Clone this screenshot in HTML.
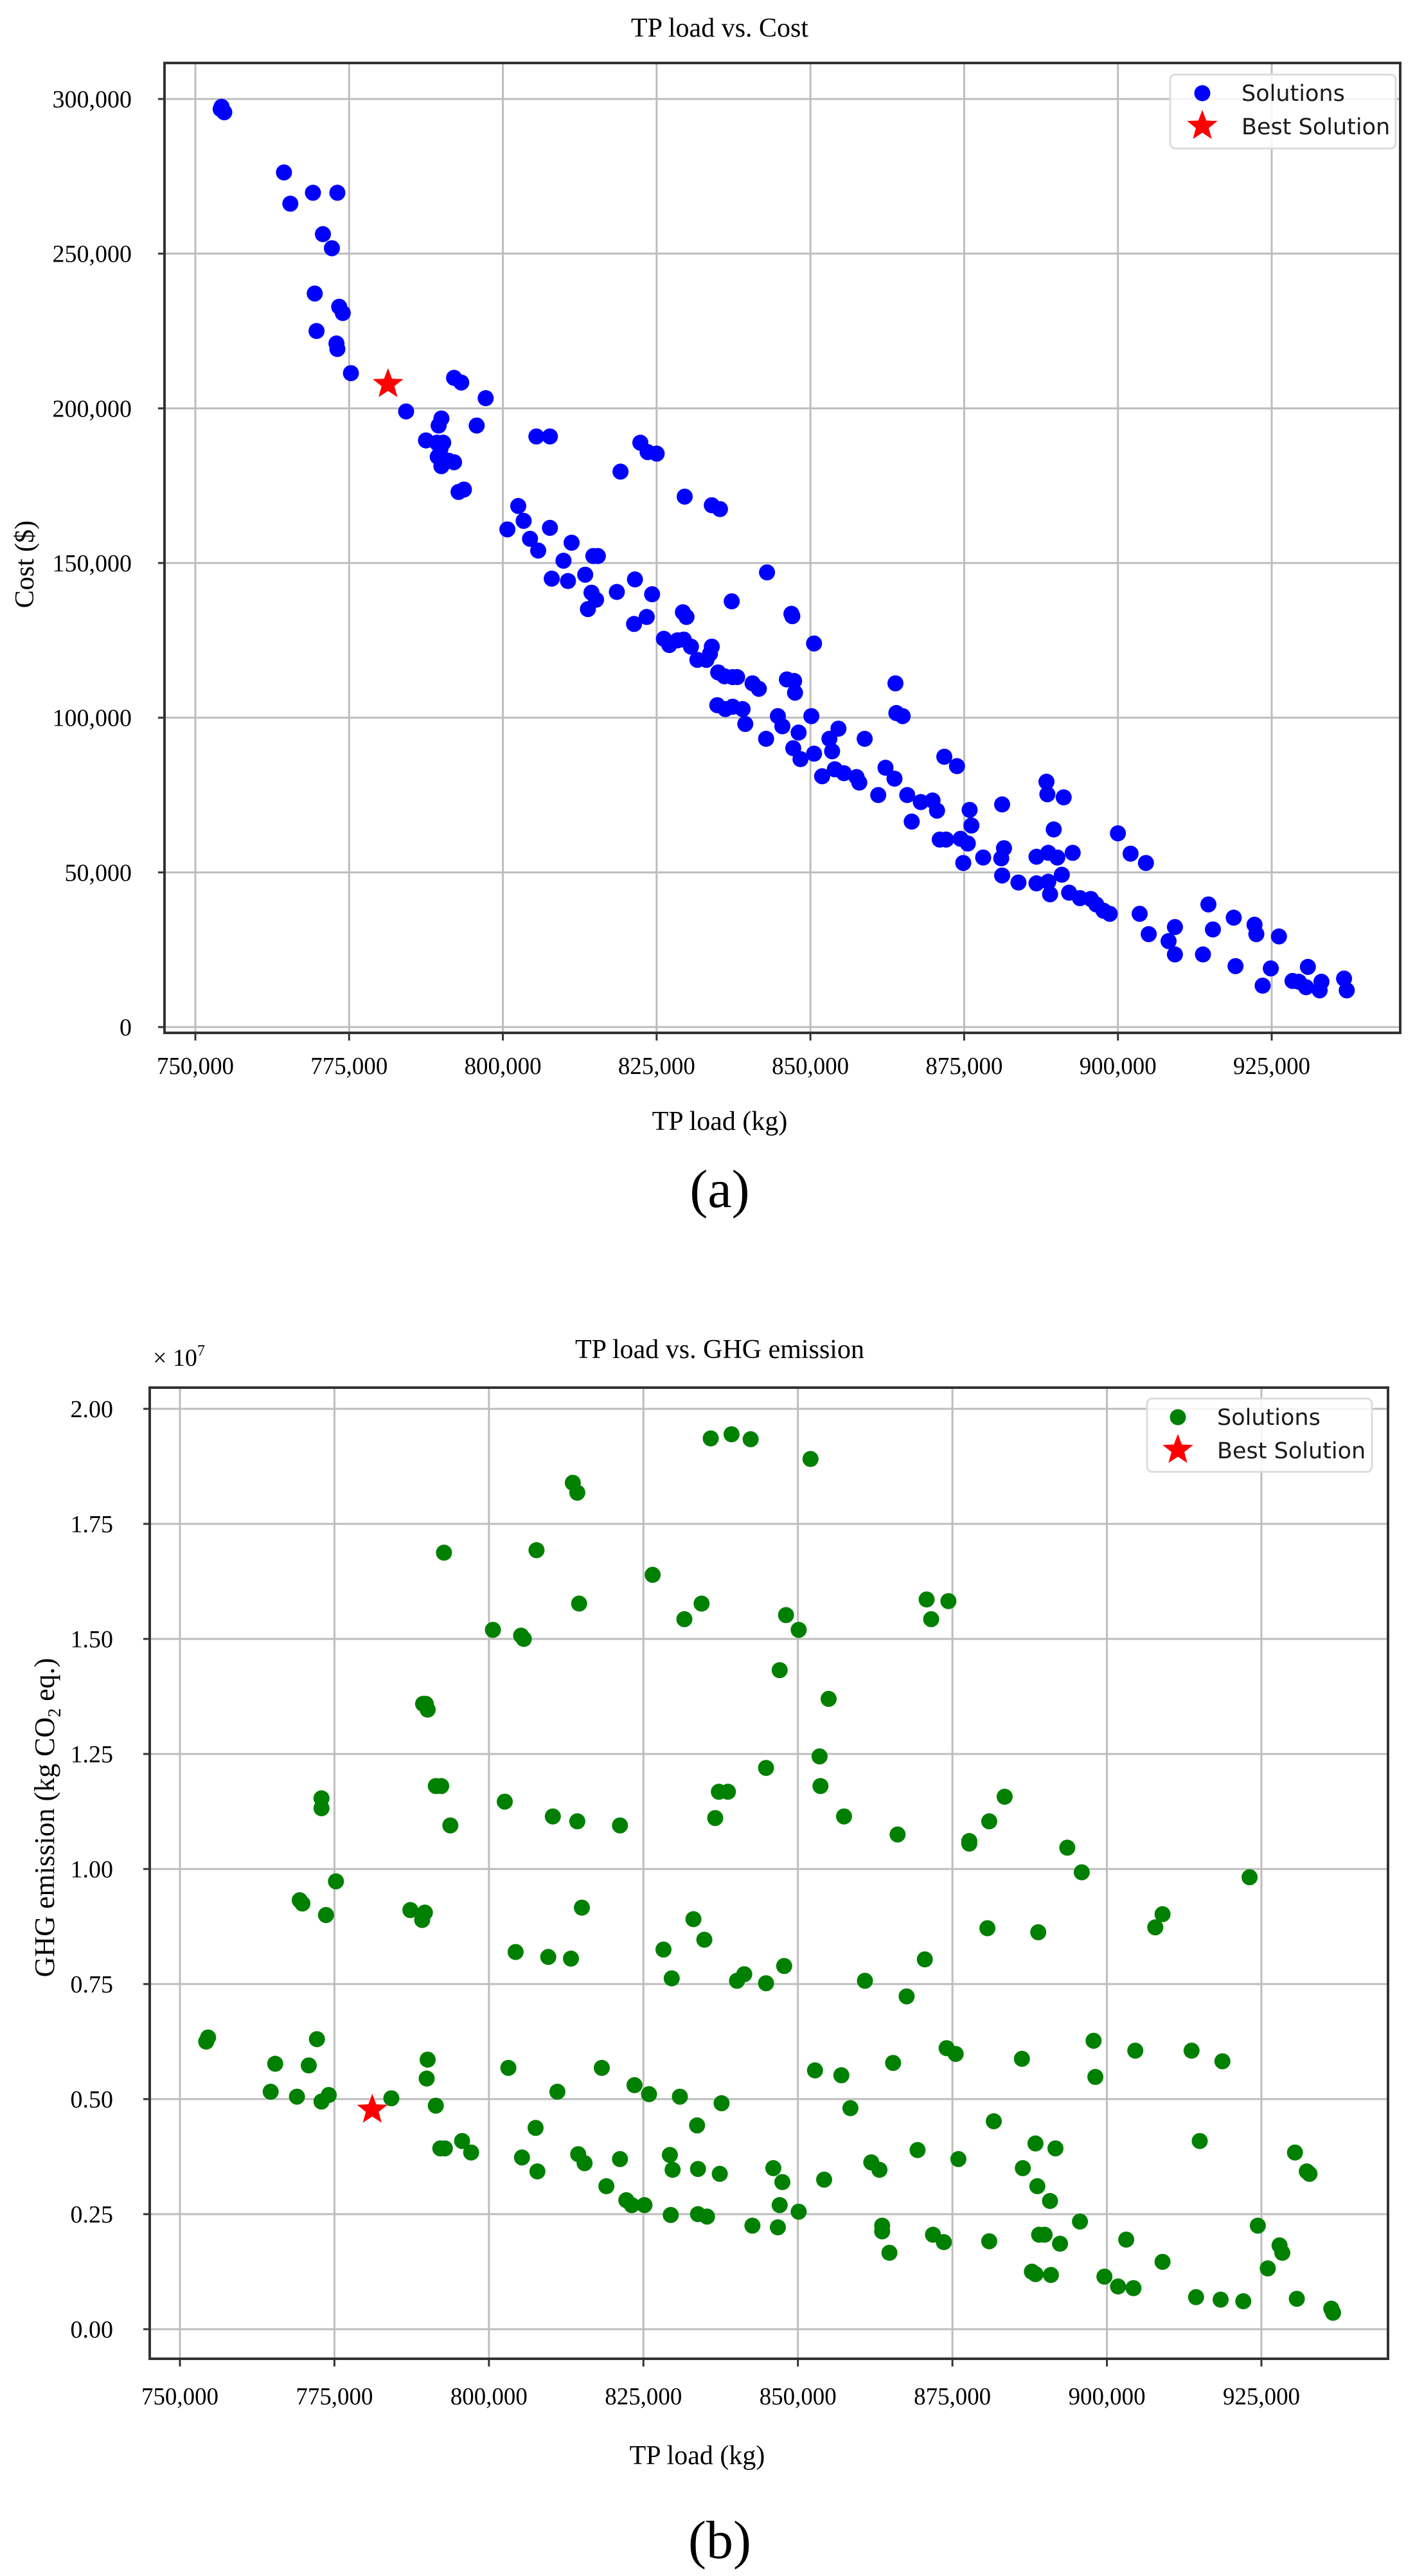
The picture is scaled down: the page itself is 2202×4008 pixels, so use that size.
<!DOCTYPE html>
<html><head><meta charset="utf-8"><style>
html,body{margin:0;padding:0;background:#fff;}
svg{display:block;}
.t{font-family:"Liberation Serif",serif;fill:#000;}
.l{font-family:"DejaVu Sans",sans-serif;fill:#1a1a1a;}
</style></head><body>
<svg id="s" width="2202" height="4008" viewBox="0 0 2202 4008" xmlns="http://www.w3.org/2000/svg">
<rect width="2202" height="4008" fill="#fff"/>
<g id="ga"></g><g id="gb"></g>
<!-- plot a texts -->
<text class="t" x="1120" y="57" font-size="42" text-anchor="middle">TP load vs. Cost</text>
<text class="t" x="1120" y="1758" font-size="42" text-anchor="middle">TP load (kg)</text>
<text class="t" x="1120" y="1878" font-size="84" text-anchor="middle">(a)</text>
<text class="t" font-size="42" text-anchor="middle" transform="translate(52,878) rotate(-90)">Cost ($)</text>
<!-- plot b texts -->
<text class="t" x="1120" y="2113" font-size="42" text-anchor="middle">TP load vs. GHG emission</text>
<text class="t" x="1085" y="3834" font-size="42" text-anchor="middle">TP load (kg)</text>
<text class="t" x="1120" y="3980" font-size="84" text-anchor="middle">(b)</text>
<text class="t" font-size="44" text-anchor="middle" transform="translate(84,2828) rotate(-90)">GHG emission (kg CO<tspan font-size="28" dy="10">2</tspan><tspan dy="-10"> eq.)</tspan></text>
<text class="t" x="238" y="2125" font-size="38">× 10<tspan font-size="24" dy="-16">7</tspan></text>
</svg>
<script>
var NS="http://www.w3.org/2000/svg";
function el(p,n,a,txt){var e=document.createElementNS(NS,n);for(var k in a)e.setAttribute(k,a[k]);if(txt!==undefined)e.textContent=txt;p.appendChild(e);return e;}
function star(p,cx,cy,R,col){var pts=[];for(var i=0;i<10;i++){var r=i%2?R*0.42:R;var a=-Math.PI/2+i*Math.PI/5;pts.push((cx+r*Math.cos(a)).toFixed(1)+","+(cy+r*Math.sin(a)).toFixed(1));}el(p,"polygon",{points:pts.join(" "),fill:col});}
function plot(g,cfg){
  var L=cfg.L,R=cfg.R,T=cfg.T,B=cfg.B;
  // grid
  for(var i=0;i<8;i++){var x=cfg.x0+i*cfg.dx;el(g,"line",{x1:x,x2:x,y1:T,y2:B,stroke:"#bdbdbd","stroke-width":3});
    el(g,"line",{x1:x,x2:x,y1:B,y2:B+12,stroke:"#333","stroke-width":3});
    el(g,"text",{x:x,y:cfg.xly,"font-size":38,"text-anchor":"middle","class":"t",textLength:120,lengthAdjust:"spacingAndGlyphs"},(750+25*i)+",000");}
  for(var j=0;j<cfg.yl.length;j++){var y=cfg.y0+j*cfg.dy;el(g,"line",{x1:L,x2:R,y1:y,y2:y,stroke:"#bdbdbd","stroke-width":3});
    el(g,"line",{x1:L-10,x2:L,y1:y,y2:y,stroke:"#333","stroke-width":3});
    el(g,"text",{x:cfg.ylx,y:y+13,"font-size":38,"text-anchor":"end","class":"t"},cfg.yl[j]);}
  // points
  var P=cfg.pts;
  for(var k=0;k<P.length;k+=2){var px=cfg.ax+cfg.bx*P[k],py=cfg.ay+cfg.by*P[k+1];el(g,"circle",{cx:px.toFixed(1),cy:py.toFixed(1),r:12.5,fill:cfg.col});}
  star(g,cfg.ax+cfg.bx*cfg.st[0],cfg.ay+cfg.by*cfg.st[1],25,"#ff0000");
  el(g,"rect",{x:L,y:T,width:R-L,height:B-T,fill:"none",stroke:"#333","stroke-width":4});
  // legend
  var lg=cfg.lg;
  el(g,"rect",{x:lg[0],y:lg[1],width:lg[2]-lg[0],height:lg[3]-lg[1],rx:8,fill:"#fff","fill-opacity":0.85,stroke:"#dcdcdc","stroke-width":3});
  el(g,"circle",{cx:lg[4],cy:lg[1]+29,r:12.5,fill:cfg.col});
  star(g,lg[4],lg[1]+80,25,"#ff0000");
  el(g,"text",{x:lg[5],y:lg[1]+41,"font-size":35,"class":"l"},"Solutions");
  el(g,"text",{x:lg[5],y:lg[1]+93,"font-size":35,"class":"l"},"Best Solution");
}
// plot a: zoom coords -> px: x: 217->304, 1407->1979 ; y: 127->154, 1315->1598
var bxa=(1979-304)/(1407-217), bya=(1598-154)/(1315-127);
var A=[246,137,249,144,245,140,315,221,322,261,347,247,374,247,358,300,368,318,349,376,376,393,380,401,351,424,373,440,374,447,389,478,450,527,
472,564,486,545,489,536,484,567,491,567,485,585,489,597,497,590,503,592,488,575,503,484,511,490,538,510,528,545,508,630,514,627,594,559,609,559,
574,648,562,678,580,667,587,690,596,705,609,676,624,718,633,695,611,741,629,744,648,736,657,712,662,712,655,759,651,780,660,768,683,758,
687,604,709,567,717,579,727,581,702,799,703,742,716,790,722,761,758,636,788,647,797,652,
735,818,741,826,750,820,757,819,765,828,772,845,788,828,786,837,782,845,756,784,760,790,810,770,
795,861,802,866,811,867,816,867,794,903,803,908,811,905,822,908,825,927,833,875,840,882,849,733,
876,786,877,789,871,870,879,872,880,887,861,917,866,930,878,958,884,938,886,972,848,946,
901,824,898,917,901,965,918,946,921,962,928,933,910,994,924,985,934,990,948,995,951,1002,957,946,
972,1018,980,983,990,997,991,875,992,913,999,917,1004,1018,1009,1052,1019,1027,1032,1025,1037,1038,1040,1075,1047,1075,
1045,969,1059,981,1063,1074,1066,1105,1071,1080,1073,1037,1075,1057,1088,1098,1108,1099,1111,1086,1109,1121,1109,1030,1127,1130,
1147,1097,1147,1131,1160,1129,1162,1145,1160,1092,1170,1098,1175,1120,1187,1092,1183,1143,1195,1150,1207,1151,1213,1158,1221,1166,1228,1170,
1158,1001,1159,1017,1166,1062,1177,1021,1237,1067,1251,1093,1268,1105,1261,1170,1271,1196,1293,1205,1300,1187,1300,1222,
1331,1222,1337,1158,1342,1190,1365,1175,1367,1237,1388,1184,1390,1196,1397,1262,1406,1240,1415,1199,1430,1256,1437,1257,1445,1264,1447,1238,1462,1257,1460,1268,1487,1253,1490,1268];
plot(document.getElementById("ga"),{L:256,R:2179,T:98,B:1607,x0:304,dx:(1979-304)/7,y0:154,dy:(1598-154)/6,
 yl:["300,000","250,000","200,000","150,000","100,000","50,000","0"],ylx:205,xly:1671,
 ax:304-217*bxa,bx:bxa,ay:154-127*bya,by:bya,pts:A,st:[430,492],col:"#0000ff",lg:[1821,116,2172,231,1871,1932]});
// plot b: x: 198->280, 1390->1963 ; y: 147->2192, 1267->3624
var bxb=(1963-280)/(1390-198), byb=(3624-2192)/(1267-147);
var Bp=[229,912,227,917,298,978,303,944,327,984,340,946,349,914,330,745,333,749,354,621,354,633,370,722,359,763,354,990,362,982,431,986,
452,757,465,769,468,760,469,506,466,506,471,513,471,939,470,962,480,995,485,1047,490,1047,496,654,480,606,486,606,489,322,509,1038,519,1052,
543,416,556,625,560,949,568,808,575,1058,574,423,577,427,591,319,592,1075,590,1022,604,814,609,643,614,978,
629,816,631,237,636,249,638,384,636,649,641,754,637,1054,644,1065,663,949,668,1093,683,1060,683,654,690,1110,696,1116,699,970,710,1116,715,981,719,349,
731,805,738,1055,740,840,741,1073,739,1128,749,984,754,403,764,768,768,1019,769,1072,769,1127,773,384,776,793,779,1130,783,183,788,645,793,1078,795,992,792,613,802,613,806,178,812,843,820,835,827,184,829,1141,844,584,844,846,852,1071,857,1143,859,1116,859,465,862,1088,864,825,866,398,880,416,880,1124,893,208,898,952,903,570,904,606,908,1085,913,500,927,958,930,643,937,998,
953,843,960,1064,969,1073,972,1141,972,1148,980,1174,984,943,989,665,999,862,1011,1049,1019,817,1021,379,1026,403,1028,1152,1040,1161,1043,925,1045,381,1053,932,1056,1060,1068,673,1068,676,1088,779,1090,649,1090,1160,1095,1014,1107,619,1126,938,1127,1071,1137,1197,1141,1200,1141,1041,1143,1093,1144,784,1145,1152,1151,1152,1157,1111,1158,1201,1163,1047,1168,1163,1176,681,1190,1136,1192,711,1205,916,1207,960,1217,1203,1232,1215,1241,1158,1249,1217,1251,928,1273,778,1281,762,1281,1185,1313,928,1318,1228,1322,1038,1345,1231,1347,941,1370,1233,1377,717,1386,1141,1397,1193,1410,1165,1413,1174,1427,1052,1429,1230,1440,1075,1443,1078,1467,1242,1469,1247];
plot(document.getElementById("gb"),{L:233,R:2160,T:2159,B:3670,x0:280,dx:(1963-280)/7,y0:2192,dy:(3624-2192)/8,
 yl:["2.00","1.75","1.50","1.25","1.00","0.75","0.50","0.25","0.00"],ylx:176,xly:3741,
 ax:280-198*bxb,bx:bxb,ay:2192-147*byb,by:byb,pts:Bp,st:[410,1000],col:"#008000",lg:[1785,2176,2135,2290,1833,1894]});
</script>
</body></html>
